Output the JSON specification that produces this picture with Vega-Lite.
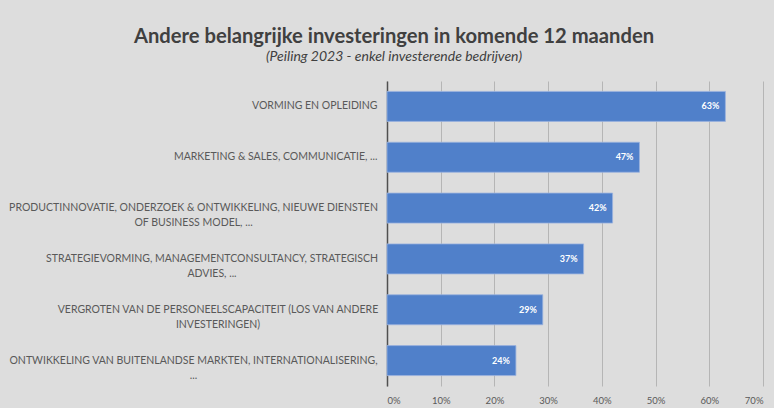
{
  "$schema": "https://vega.github.io/schema/vega-lite/v6.json",
  "autosize": "none",
  "width": 376,
  "height": 305,
  "padding": {"left": 387, "top": 81, "right": 11, "bottom": 22},
  "background": "#dddddd",
  "title": {
    "text": "Andere belangrijke investeringen in komende 12 maanden",
    "subtitle": "(Peiling 2023 - enkel investerende bedrijven)",
    "anchor": "middle",
    "frame": "group",
    "dx": -181,
    "offset": 17,
    "font": "Lato",
    "fontSize": 20.2,
    "fontWeight": "bold",
    "color": "#404040",
    "subtitleFont": "Lato",
    "subtitleFontSize": 14,
    "subtitleFontStyle": "italic",
    "subtitleFontWeight": "normal",
    "subtitleColor": "#404040",
    "subtitlePadding": 3
  },
  "data": {
    "values": [
      {"categorie": "VORMING EN OPLEIDING", "aandeel": 0.63},
      {"categorie": "MARKETING & SALES, COMMUNICATIE, ...", "aandeel": 0.47},
      {"categorie": "PRODUCTINNOVATIE, ONDERZOEK & ONTWIKKELING, NIEUWE DIENSTEN|OF BUSINESS MODEL, ...", "aandeel": 0.42},
      {"categorie": "STRATEGIEVORMING, MANAGEMENTCONSULTANCY, STRATEGISCH|ADVIES, ...", "aandeel": 0.366},
      {"categorie": "VERGROTEN VAN DE PERSONEELSCAPACITEIT (LOS VAN ANDERE|INVESTERINGEN)", "aandeel": 0.29},
      {"categorie": "ONTWIKKELING VAN BUITENLANDSE MARKTEN, INTERNATIONALISERING,|...", "aandeel": 0.24}
    ]
  },
  "encoding": {
    "y": {
      "field": "categorie",
      "type": "nominal",
      "sort": null,
      "scale": {"paddingInner": 0.41, "paddingOuter": 0.205},
      "axis": {
        "title": null,
        "labelExpr": "split(datum.label, '|')",
        "labelFont": "Lato",
        "labelFontSize": 10.5,
        "labelColor": "#595959",
        "labelLimit": 400,
        "labelAlign": {
          "condition": {"test": "indexof(datum.value, '|') >= 0", "value": "center"},
          "value": "right"
        },
        "labelPadding": {
          "condition": [
            {"test": "indexof(datum.value, 'PRODUCT') == 0", "value": 194},
            {"test": "indexof(datum.value, 'STRATEGIE') == 0", "value": 175.5},
            {"test": "indexof(datum.value, 'VERGROTEN') == 0", "value": 169.5},
            {"test": "indexof(datum.value, 'ONTWIKKELING') == 0", "value": 194}
          ],
          "value": 10
        },
        "labelLineHeight": 15,
        "ticks": false,
        "domain": true,
        "domainColor": "#505050",
        "domainWidth": 1.5
      }
    },
    "x": {
      "field": "aandeel",
      "type": "quantitative",
      "scale": {"domain": [0, 0.7], "nice": false},
      "axis": {
        "title": null,
        "format": ".0%",
        "values": [0, 0.1, 0.2, 0.3, 0.4, 0.5, 0.6, 0.7],
        "labelFont": "Lato",
        "labelFontSize": 9.5,
        "labelColor": "#595959",
        "labelPadding": 9,
        "domain": false,
        "ticks": false,
        "grid": true,
        "gridColor": "#b5b5b5",
        "gridWidth": 1
      }
    }
  },
  "layer": [
    {
      "mark": {"type": "bar", "color": "#5080ca", "stroke": "#9ab2de", "strokeWidth": 0.8}
    },
    {
      "mark": {"type": "text", "align": "right", "dx": -6, "font": "Lato", "fontSize": 9, "fontWeight": "bold", "color": "white"},
      "encoding": {"text": {"field": "aandeel", "type": "quantitative", "format": ".0%"}}
    }
  ],
  "config": {"view": {"stroke": null}}
}
